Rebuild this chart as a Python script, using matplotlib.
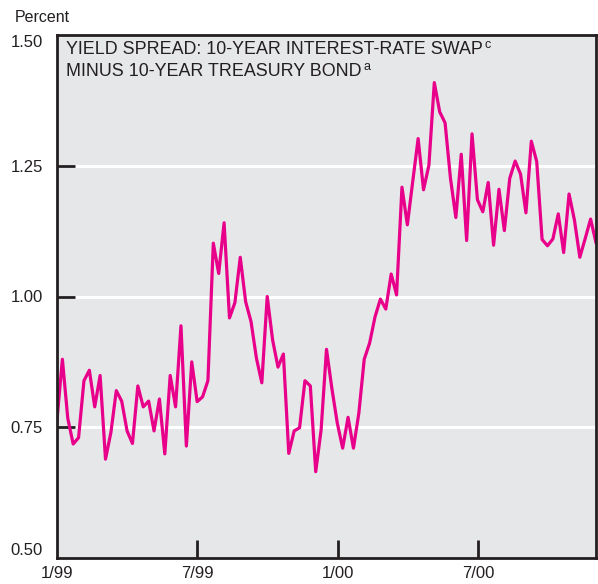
import matplotlib
matplotlib.use("Agg")
import matplotlib.pyplot as plt
import numpy as np

# weekly spread, percent (1/99 .. ~11/00)
spread = [
    0.764, 0.880, 0.767, 0.718, 0.730, 0.839, 0.859, 0.789, 0.849, 0.689,
    0.740, 0.820, 0.800, 0.743, 0.719, 0.829, 0.789, 0.800, 0.743, 0.804,
    0.699, 0.849, 0.789, 0.944, 0.714, 0.875, 0.799, 0.808, 0.839, 1.102,
    1.044, 1.141, 0.959, 0.988, 1.075, 0.990, 0.952, 0.882, 0.835, 1.000,
    0.917, 0.865, 0.890, 0.700, 0.743, 0.749, 0.839, 0.829, 0.665, 0.745,
    0.899, 0.824, 0.758, 0.710, 0.769, 0.710, 0.777, 0.880, 0.911, 0.961,
    0.995, 0.976, 1.043, 1.003, 1.209, 1.137, 1.220, 1.302, 1.204, 1.251,
    1.409, 1.353, 1.332, 1.226, 1.151, 1.272, 1.107, 1.311, 1.185, 1.162,
    1.218, 1.098, 1.205, 1.126, 1.226, 1.259, 1.234, 1.160, 1.297, 1.258,
    1.109, 1.097, 1.110, 1.158, 1.084, 1.196, 1.146, 1.075, 1.111, 1.148,
    1.103,
]
week_ticks = [0, 26, 52.14, 78.14]
week_labels = ["1/99", "7/99", "1/00", "7/00"]
y_ticks = [0.50, 0.75, 1.00, 1.25, 1.50]
y_labels = ["0.50", "0.75", "1.00", "1.25", "1.50"]

LINE = "#E8008A"
BG = "#E6E7E9"
INK = "#231F20"
SANS = ["Liberation Sans", "DejaVu Sans"]

W, H = 598, 584
fig = plt.figure(figsize=(W / 100, H / 100), dpi=100)
ax = fig.add_axes([57 / W, (H - 558) / H, (596 - 57) / W, (558 - 35) / H])
ax.set_facecolor(BG)

weeks = np.arange(len(spread))
for g in [0.75, 1.00, 1.25]:
    ax.axhline(g, color="white", lw=2.2, zorder=1)
ax.plot(weeks, spread, color=LINE, lw=2.3, zorder=3)

ax.set_xlim(0, 100)
ax.set_ylim(0.5, 1.5)
for s in ax.spines.values():
    s.set_color(INK)
    s.set_linewidth(2)
    s.set_zorder(4)

ax.set_yticks(y_ticks)
ax.set_yticklabels(y_labels, family=SANS, fontsize=12, color=INK)
ax.set_xticks(week_ticks)
ax.set_xticklabels(week_labels, family=SANS, fontsize=12, color=INK)
ax.tick_params(axis="both", direction="in", length=13, width=2, color=INK, pad=10)
ax.tick_params(axis="x", pad=6)
# end ticks sit on the frame; hide them
ax.yaxis.get_major_ticks()[0].tick1line.set_visible(False)
ax.yaxis.get_major_ticks()[-1].tick1line.set_visible(False)
ax.xaxis.get_major_ticks()[0].tick1line.set_visible(False)
ylab = ax.get_yticklabels()
ylab[0].set_va("bottom")
ylab[-1].set_va("top")

fig.text(15 / W, 1 - 18 / H, "Percent", family=SANS, fontsize=11.5,
         va="center", ha="left", color=INK)

title_kw = dict(family=SANS, fontsize=12.9, color=INK, va="center", ha="left")
t1 = fig.text(66 / W, 1 - 49 / H, "YIELD SPREAD: 10-YEAR INTEREST-RATE SWAP", **title_kw)
t2 = fig.text(66 / W, 1 - 72 / H, "MINUS 10-YEAR TREASURY BOND", **title_kw)
fig.canvas.draw()
r = fig.canvas.get_renderer()
for t, sup in [(t1, "c"), (t2, "a")]:
    bb = t.get_window_extent(r)
    fig.text((bb.x1 + 2) / W, (bb.y1 + 2) / H, sup, family=SANS,
             fontsize=9, color=INK, va="top", ha="left")

fig.savefig("out.png", dpi=100)
